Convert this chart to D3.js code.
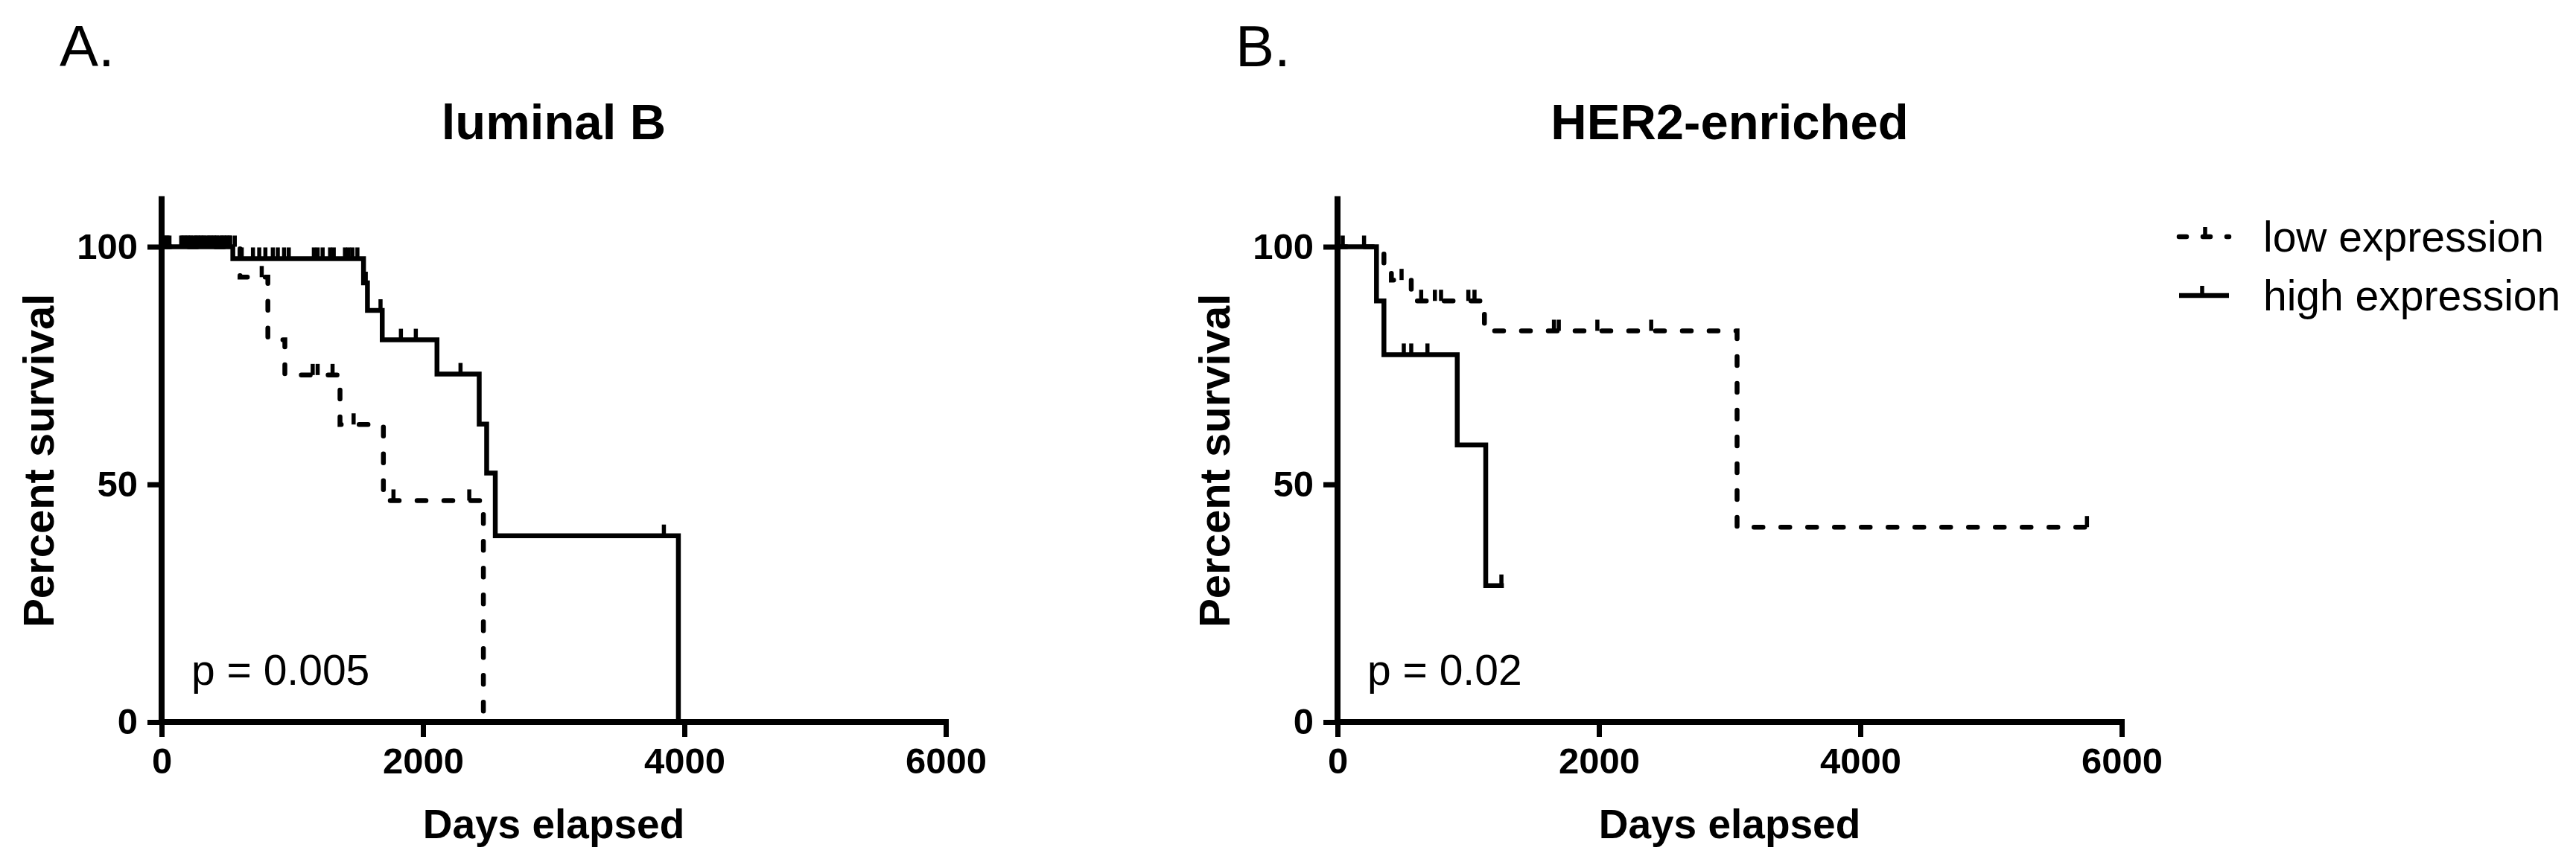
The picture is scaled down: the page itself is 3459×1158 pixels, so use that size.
<!DOCTYPE html>
<html>
<head>
<meta charset="utf-8">
<script src="https://cdn.jsdelivr.net/npm/d3@7"></script>
<style>
  html, body { margin: 0; padding: 0; background: #fff; }
  svg { display: block; }
  text { font-family: "Liberation Sans", Arial, Helvetica, sans-serif; fill: #000; }
</style>
</head>
<body>
<svg id="chart" width="3459" height="1158"></svg>
<script>
// ---------- data ----------
const xTicks = [0, 2000, 4000, 6000];
const yTicks = [0, 50, 100];
const groupNames = ["low expression", "high expression"];
const panelLetters = ["A.", "B."];
const panelTitles = ["luminal B", "HER2-enriched"];
const pValues = ["p = 0.005", "p = 0.02"];

// Panel A: luminal B
const lumB_low_times  = [0, 600, 813, 943, 1365, 1697, 2462];
const lumB_low_surv   = [100, 93.6, 80.4, 73.0, 62.6, 46.6, 0];
const lumB_low_end    = 2462;
const lumB_low_censor = [15, 45, 160, 190, 220, 260, 290, 320, 360, 390, 420, 460, 490, 520, 560, 766, 1156, 1194, 1308, 1469, 1774, 2354];

const lumB_high_times  = [0, 545, 1545, 1575, 1688, 2107, 2430, 2487, 2553, 3954];
const lumB_high_surv   = [100, 97.5, 92.4, 86.6, 80.4, 73.2, 62.7, 52.4, 39.2, 0];
const lumB_high_end    = 3954;
const lumB_high_censor = [30, 60, 150, 175, 200, 225, 250, 275, 300, 325, 350, 375, 400, 425, 450, 475, 500, 525,
                          613, 699, 747, 794, 851, 889, 937, 973, 1165, 1194, 1232, 1289, 1317, 1403, 1431, 1460, 1498,
                          1562, 1675, 1831, 1945, 2287, 3843];

// Panel B: HER2-enriched
const her2_low_times  = [0, 355, 412, 564, 1124, 3057];
const her2_low_surv   = [100, 96.5, 93.0, 88.6, 82.3, 41.0];
const her2_low_end    = 5734;
const her2_low_censor = [203, 490, 640, 745, 792, 1001, 1048, 1656, 1693, 1988, 2400, 5734];

const her2_high_times  = [0, 298, 355, 916, 1134];
const her2_high_surv   = [100, 88.6, 77.3, 58.3, 28.7];
const her2_high_end    = 1254;
const her2_high_censor = [40, 507, 564, 688, 1254];

// ---------- layout ----------
const W = 3459, H = 1158;
const svg = d3.select("#chart");
const panelLeft = [217, 1796];
const plotWidth = 1053;
const yBottom = 970, yTop = 267.6;
const curveWidth = 6.5, axisWidth = 8;
const dashPattern = "12,24";

function stepValue(times, surv, t) {
  let v = surv[0];
  for (let i = 0; i < times.length; i++) { if (times[i] <= t) v = surv[i]; }
  return v;
}

function drawPanel(idx, series) {
  const left = panelLeft[idx];
  const x = d3.scaleLinear().domain([0, 6000]).range([left, left + plotWidth]);
  const y = d3.scaleLinear().domain([0, 110]).range([yBottom, yTop]);
  const g = svg.append("g");

  // panel letter
  g.append("text").attr("x", left - 137).attr("y", 89)
    .attr("font-size", 78).text(panelLetters[idx]);
  // title
  g.append("text").attr("x", (x(0) + x(6000)) / 2).attr("y", 187)
    .attr("text-anchor", "middle").attr("font-size", 67).attr("font-weight", "bold")
    .text(panelTitles[idx]);

  // axes
  const xAxis = d3.axisBottom(x).tickValues(xTicks).tickSize(20).tickPadding(14).tickFormat(d3.format("d"));
  const gx = g.append("g").attr("transform", `translate(0,${yBottom})`).call(xAxis);
  gx.select(".domain").attr("d", `M${x(0)},0H${x(6000)}`).attr("stroke", "#000").attr("stroke-width", axisWidth).attr("stroke-linecap", "square");
  gx.selectAll(".tick line").attr("stroke", "#000").attr("stroke-width", axisWidth - 1);
  gx.selectAll(".tick text").attr("font-size", 49).attr("font-weight", "bold")
    .attr("font-family", '"Liberation Sans", Arial, sans-serif').attr("fill", "#000").attr("dy", "0.72em");

  const yAxis = d3.axisLeft(y).tickValues(yTicks).tickSize(19).tickPadding(13);
  const gy = g.append("g").attr("transform", `translate(${left},0)`).call(yAxis);
  gy.select(".domain").attr("d", `M0,${y(0)}V${y(110)}`).attr("stroke", "#000").attr("stroke-width", axisWidth).attr("stroke-linecap", "square");
  gy.selectAll(".tick line").attr("stroke", "#000").attr("stroke-width", axisWidth - 1);
  gy.selectAll(".tick text").attr("font-size", 49).attr("font-weight", "bold")
    .attr("font-family", '"Liberation Sans", Arial, sans-serif').attr("fill", "#000");

  // axis labels
  g.append("text").attr("x", (x(0) + x(6000)) / 2).attr("y", 1126)
    .attr("text-anchor", "middle").attr("font-size", 55).attr("font-weight", "bold")
    .text("Days elapsed");
  g.append("text")
    .attr("transform", `translate(${left - 145},${(y(0) + y(110)) / 2}) rotate(-90)`)
    .attr("text-anchor", "middle").attr("font-size", 58).attr("font-weight", "bold")
    .text("Percent survival");

  // p value
  g.append("text").attr("x", left + 40).attr("y", 920).attr("font-size", 57).text(pValues[idx]);

  // curves
  const line = d3.line().x(d => x(d[0])).y(d => y(d[1])).curve(d3.curveStepAfter);
  series.forEach(s => {
    const pts = s.times.map((t, i) => [t, s.surv[i]]);
    pts.push([s.end, s.surv[s.surv.length - 1]]);
    g.append("path").datum(pts).attr("d", line)
      .attr("fill", "none").attr("stroke", "#000").attr("stroke-width", curveWidth)
      .attr("stroke-linejoin", "miter")
      .attr("stroke-linecap", s.dashed ? "round" : "square")
      .attr("stroke-dasharray", s.dashed ? dashPattern : null);
    g.selectAll(null).data(s.censor).enter().append("line")
      .attr("x1", d => x(d)).attr("x2", d => x(d))
      .attr("y1", d => y(stepValue(s.times, s.surv, d)))
      .attr("y2", d => y(stepValue(s.times, s.surv, d)) - 15)
      .attr("stroke", "#000").attr("stroke-width", 5.5);
  });
}

drawPanel(0, [
  { times: lumB_low_times, surv: lumB_low_surv, end: lumB_low_end, censor: lumB_low_censor, dashed: true },
  { times: lumB_high_times, surv: lumB_high_surv, end: lumB_high_end, censor: lumB_high_censor, dashed: false }
]);
drawPanel(1, [
  { times: her2_low_times, surv: her2_low_surv, end: her2_low_end, censor: her2_low_censor, dashed: true },
  { times: her2_high_times, surv: her2_high_surv, end: her2_high_end, censor: her2_high_censor, dashed: false }
]);

// legend
const legend = svg.append("g");
const legendRows = [{ y: 318, dashed: true, tickX: 2961, textY: 338 }, { y: 397, dashed: false, tickX: 2957, textY: 417 }];
legendRows.forEach((r, i) => {
  legend.append("line").attr("x1", 2926).attr("x2", 2993).attr("y1", r.y).attr("y2", r.y)
    .attr("stroke", "#000").attr("stroke-width", curveWidth)
    .attr("stroke-linecap", r.dashed ? "round" : "butt")
    .attr("stroke-dasharray", r.dashed ? "10,22" : null);
  legend.append("line").attr("x1", r.tickX).attr("x2", r.tickX).attr("y1", r.y).attr("y2", r.y - 13)
    .attr("stroke", "#000").attr("stroke-width", 5.5);
  legend.append("text").attr("x", 3039).attr("y", r.textY).attr("font-size", 57).text(groupNames[i]);
});
</script>
</body>
</html>
